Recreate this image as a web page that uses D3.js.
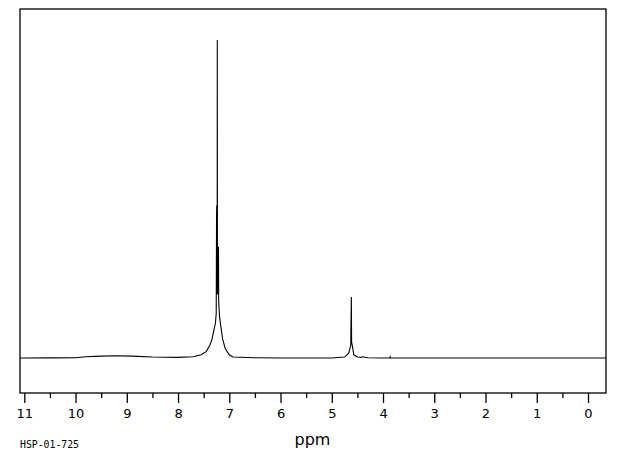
<!DOCTYPE html>
<html>
<head>
<meta charset="utf-8">
<script src="https://cdn.jsdelivr.net/npm/d3@7"></script>
<style>
  html, body { margin: 0; padding: 0; background: #fff; }
  svg { display: block; }
</style>
</head>
<body>
<svg id="chart" width="620" height="455"></svg>
<script>
// ---- data ----
const ppmValues = [
  11.08, 11.0, 10.5, 10.0, 9.8, 9.5, 9.2, 8.9, 8.5, 8.0, 7.7, 7.55, 7.45, 7.38, 7.34,
  7.30, 7.27, 7.255, 7.248, 7.245, 7.240, 7.236, 7.234, 7.231, 7.222, 7.214,
  7.211, 7.207, 7.19, 7.17, 7.13, 7.08, 7.0, 6.93, 6.5, 6.0, 5.0, 4.75, 4.67,
  4.63, 4.618, 4.613, 4.608, 4.595, 4.57, 4.5, 4.42, 4.4, 4.3, 4.0, 3.87,
  3.86, 3.85, 2.0, 0.0, -0.35
];
const intensityValues = [
  0.0, 0.0, 0.05, 0.1, 0.4, 0.6, 0.7, 0.6, 0.3, 0.2, 0.4, 1.0, 2.0, 4.0, 5.7,
  8.8, 11.0, 14.0, 45.0, 48.0, 30.0, 20.0, 100.0, 21.0, 20.0, 22.0,
  35.0, 18.0, 13.0, 10.5, 6.0, 3.0, 1.0, 0.3, 0.1, 0.0, 0.0, 0.3, 1.5,
  4.0, 19.2, 5.0, 4.6, 3.5, 1.0, 0.3, 0.2, 0.4, 0.1, 0.0, 0.0,
  0.4, 0.0, 0.0, 0.0, 0.0
];
const majorTicks = [11, 10, 9, 8, 7, 6, 5, 4, 3, 2, 1, 0];
const minorTicks = [10.5, 9.5, 8.5, 7.5, 6.5, 5.5, 4.5, 3.5, 2.5, 1.5, 0.5];
const axisTitle = "ppm";
const sampleId = "HSP-01-725";

// ---- layout ----
const frame = { left: 20, top: 9, right: 606, bottom: 393 };
const svg = d3.select("#chart");

const x = d3.scaleLinear().domain([11, 0]).range([24.3, 588]);
const y = d3.scaleLinear().domain([0, 100]).range([358, 40]);

const points = ppmValues.map((p, i) => ({ ppm: p, v: intensityValues[i] }));

// frame
svg.append("rect")
  .attr("x", frame.left).attr("y", frame.top)
  .attr("width", frame.right - frame.left)
  .attr("height", frame.bottom - frame.top)
  .attr("fill", "none").attr("stroke", "#000").attr("stroke-width", 1.3);

// spectrum
const line = d3.line().x(d => x(d.ppm)).y(d => y(d.v));
svg.append("path")
  .datum(points)
  .attr("d", line)
  .attr("fill", "none")
  .attr("stroke", "#000")
  .attr("stroke-width", 1.1)
  .attr("stroke-linejoin", "miter");

// major axis
const axis = d3.axisBottom(x)
  .tickValues(majorTicks)
  .tickFormat(d3.format("d"))
  .tickSize(10)
  .tickPadding(6);
const gAxis = svg.append("g")
  .attr("transform", `translate(0,${frame.bottom})`)
  .call(axis);
gAxis.select(".domain").remove();
gAxis.selectAll(".tick line").attr("stroke", "#000").attr("stroke-width", 1.3);
gAxis.selectAll(".tick text")
  .attr("fill", "#000")
  .style("font-family", "'DejaVu Sans', sans-serif")
  .style("font-size", "13px");

// minor ticks
const minorAxis = d3.axisBottom(x)
  .tickValues(minorTicks)
  .tickFormat("")
  .tickSize(5);
const gMinor = svg.append("g")
  .attr("transform", `translate(0,${frame.bottom})`)
  .call(minorAxis);
gMinor.select(".domain").remove();
gMinor.selectAll(".tick line").attr("stroke", "#000").attr("stroke-width", 1.3);

// axis title
svg.append("text")
  .attr("x", 312.5).attr("y", 445)
  .attr("text-anchor", "middle")
  .style("font-family", "'DejaVu Sans', sans-serif")
  .style("font-size", "16px")
  .attr("fill", "#000")
  .text(axisTitle);

// sample id
svg.append("text")
  .attr("x", 20).attr("y", 448)
  .style("font-family", "'DejaVu Sans Mono', monospace")
  .style("font-size", "9.8px")
  .attr("fill", "#000")
  .text(sampleId);
</script>
</body>
</html>
